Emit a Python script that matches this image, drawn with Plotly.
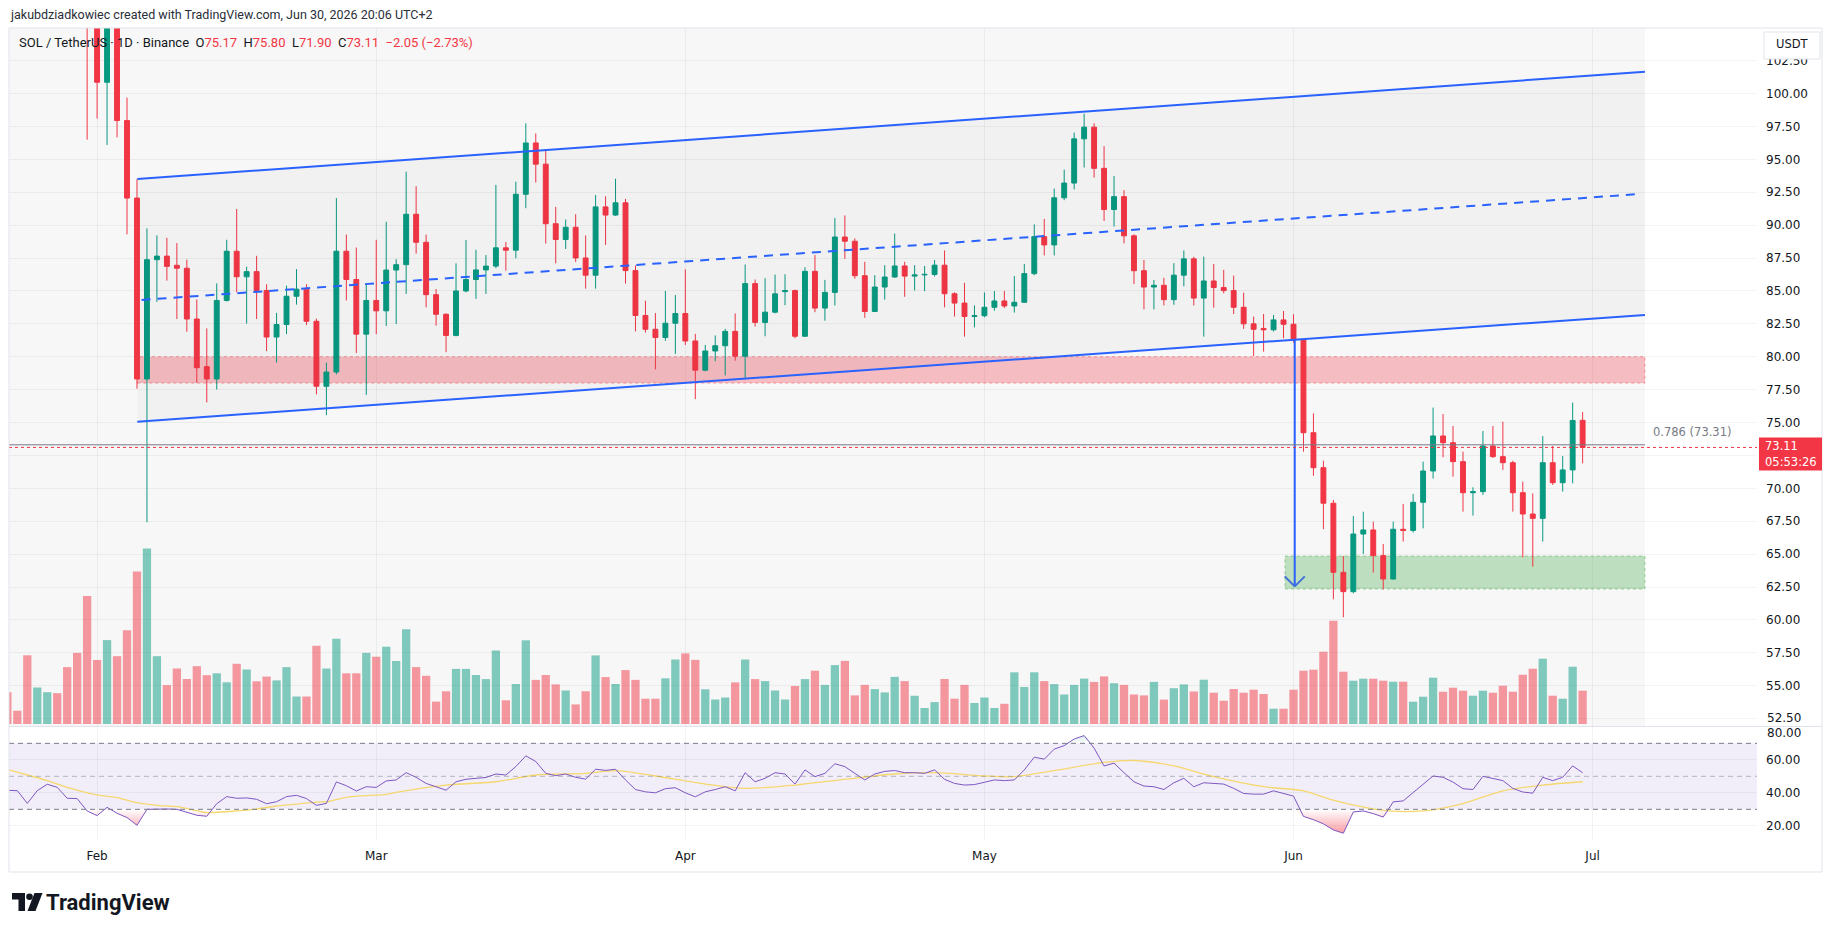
import pandas as pd
import plotly.graph_objects as go

W, H = 1835, 931

# ---------------- data (daily, Jan 23 .. Jun 30 2026) ----------------
DATES = pd.date_range("2026-01-23", "2026-06-30", freq="D")

OPEN = [
    127.5, 125.8, 124.9, 117.6, 121.8, 124.3, 121.6, 116.9, 116.6,
    108.4, 100.86, 106.2, 97.95, 92.06, 78.31, 87.38, 87.65, 86.95, 86.73, 82.87, 79.25, 78.31, 84.28,
    88.02, 86.08, 86.47, 85.04, 81.5, 82.45, 84.6, 85.14, 82.7, 77.76, 78.84, 88.02, 85.87, 81.72,
    84.28, 83.49, 86.59, 87.0, 90.83, 88.7, 84.72, 83.23, 81.62, 85.0, 85.87, 86.6, 86.89, 88.28, 88.1,
    92.35, 96.25, 94.64, 90.11, 88.91, 89.84, 87.51, 86.2, 91.39, 90.77, 91.7, 86.55, 83.14, 82.09, 81.46, 82.55,
    83.29, 81.2, 78.98, 80.44, 80.84, 81.93, 80.04, 85.56, 82.61, 83.39, 84.95, 85.03, 81.56, 86.49, 83.7,
    84.89, 89.1, 88.78, 86.16, 83.44, 85.3, 86.06, 86.9, 86.13, 86.22, 86.26, 86.96, 84.79, 84.08, 83.06,
    83.12, 83.76, 84.24, 83.86, 84.14, 86.32, 89.13, 88.5, 92.08, 93.2, 96.56, 97.45, 94.32, 91.19, 92.17,
    89.19, 86.54, 85.3, 85.43, 84.34, 86.2, 87.44, 84.46, 85.76, 85.26, 85.03, 83.76, 82.5, 82.15, 82.05, 82.8,
    82.47, 81.28, 74.23, 71.57, 68.87, 63.62, 62.15, 66.53, 66.84, 64.89, 63.11, 66.89, 66.8, 68.94, 71.32,
    73.98, 73.47, 72.03, 69.67, 69.75, 73.22, 72.41, 71.95, 69.67, 68.05, 67.72, 71.95, 70.43, 71.4, 75.17,
]
HIGH = [
    129.0, 127.0, 125.5, 123.0, 126.0, 125.0, 122.2, 118.5, 117.2,
    109.5, 107.5, 107.0, 99.7, 93.5, 89.76, 89.22, 89.04, 88.64, 87.38, 84.35, 82.16, 85.58, 88.89,
    91.23, 86.84, 87.67, 85.51, 83.34, 85.4, 86.66, 85.51, 82.9, 79.56, 92.06, 89.29, 88.3, 85.51,
    88.89, 90.26, 87.41, 94.07, 92.96, 89.28, 85.15, 83.3, 87.1, 88.88, 88.13, 87.73, 93.06, 88.72, 93.31,
    97.74, 96.97, 95.79, 91.39, 90.43, 90.83, 89.22, 92.29, 92.2, 93.53, 92.0, 86.94, 84.26, 83.32, 85.0, 84.69,
    86.64, 81.74, 80.9, 81.62, 82.12, 83.29, 87.01, 85.87, 85.97, 86.24, 86.27, 85.1, 86.8, 87.73, 85.84,
    90.55, 90.74, 89.0, 87.22, 86.2, 86.96, 89.36, 87.22, 86.96, 86.9, 87.35, 88.08, 84.9, 85.62, 83.9,
    84.89, 85.0, 85.0, 86.13, 87.05, 90.06, 90.48, 92.78, 94.22, 97.04, 98.47, 97.75, 96.01, 93.74, 92.66,
    89.3, 87.35, 85.84, 86.0, 87.11, 88.08, 87.6, 87.61, 87.05, 86.6, 86.17, 84.87, 83.06, 83.25, 83.18, 83.48,
    83.23, 81.35, 75.7, 72.1, 69.12, 64.86, 67.9, 68.23, 67.47, 65.77, 67.47, 68.82, 69.58, 72.03, 76.14,
    75.65, 74.74, 72.79, 70.08, 74.36, 74.74, 75.07, 72.1, 70.51, 69.62, 73.98, 73.22, 72.46, 76.52, 75.80,
]
LOW = [
    124.6, 123.5, 116.8, 116.5, 120.9, 120.5, 115.8, 111.8, 96.5,
    98.1, 96.1, 96.67, 89.3, 77.58, 67.42, 84.17, 85.79, 82.87, 81.9, 78.02, 76.53, 77.51, 84.2,
    84.89, 82.52, 82.87, 80.43, 79.56, 81.72, 83.96, 82.41, 77.15, 75.56, 78.66, 84.28, 80.28, 77.11,
    81.72, 82.34, 82.48, 84.78, 87.84, 83.76, 82.36, 80.35, 81.55, 84.9, 84.4, 84.78, 86.73, 86.55, 87.48,
    91.29, 93.25, 88.6, 87.1, 88.19, 87.2, 85.18, 85.18, 88.5, 90.7, 85.56, 81.93, 81.84, 79.04, 81.21, 80.22,
    80.9, 76.78, 78.9, 79.66, 78.58, 79.7, 78.33, 82.3, 81.56, 83.3, 83.92, 81.4, 81.5, 83.39, 82.74,
    83.9, 87.44, 85.93, 82.96, 83.4, 84.34, 86.0, 84.56, 85.04, 84.98, 86.1, 83.76, 83.06, 81.53, 82.23,
    83.0, 83.5, 83.7, 83.36, 84.1, 86.2, 87.7, 87.7, 91.9, 92.72, 94.38, 93.62, 90.32, 89.9, 88.62,
    85.52, 83.6, 83.6, 83.9, 83.95, 85.36, 83.9, 81.53, 83.73, 84.82, 83.25, 82.12, 80.06, 80.39, 81.92, 81.41,
    81.08, 72.79, 70.96, 66.9, 61.57, 60.2, 62.02, 65.01, 63.6, 62.32, 63.05, 65.96, 66.64, 66.96, 70.74,
    72.36, 70.89, 68.23, 67.93, 69.5, 72.3, 71.4, 68.23, 64.76, 64.05, 65.96, 70.26, 69.75, 70.38, 71.90,
]
CLOSE = [
    125.8, 124.9, 117.6, 121.8, 124.3, 121.6, 116.9, 116.6, 108.4,
    100.86, 106.2, 97.95, 92.06, 78.31, 87.38, 87.65, 86.87, 86.73, 82.87, 79.17, 78.31, 84.28, 88.02,
    86.08, 86.47, 85.04, 81.5, 82.45, 84.6, 85.14, 82.7, 77.76, 78.84, 88.02, 85.87, 81.72, 84.28,
    83.49, 86.59, 87.0, 90.83, 88.7, 84.72, 83.23, 81.62, 85.0, 85.87, 86.6, 86.89, 88.28, 88.1, 92.35,
    96.25, 94.64, 90.11, 88.91, 89.84, 87.51, 86.2, 91.39, 90.77, 91.7, 86.55, 83.14, 82.09, 81.46, 82.55, 83.29,
    81.2, 78.98, 80.44, 80.84, 81.93, 80.04, 85.56, 82.61, 83.39, 84.78, 85.03, 81.56, 86.49, 83.7, 84.89,
    89.1, 88.78, 86.16, 83.44, 85.3, 86.06, 86.9, 86.13, 86.22, 86.26, 86.96, 84.79, 84.08, 83.06, 83.12,
    83.76, 84.24, 83.86, 84.14, 86.32, 89.13, 88.5, 92.08, 93.2, 96.56, 97.45, 94.32, 91.19, 92.17, 89.19,
    86.54, 85.3, 85.43, 84.34, 86.2, 87.44, 84.46, 85.76, 85.26, 85.03, 83.76, 82.5, 82.09, 82.05, 82.8, 82.47,
    81.28, 74.23, 71.57, 68.87, 63.62, 62.15, 66.53, 66.84, 64.89, 63.11, 66.89, 66.8, 68.94, 71.32, 73.98,
    73.47, 72.03, 69.67, 69.75, 73.22, 72.41, 71.95, 69.67, 68.05, 67.72, 71.95, 70.43, 71.4, 75.16, 73.11,
]
VOLUME = [
    31.8, 13.3, 68.7, 36.5, 31.8, 30.8, 56.9, 71.1, 128,
    64, 83.9, 67.8, 93.8, 152.6, 175.4, 67.8, 38.9, 55.5, 45, 57.8, 48.8, 50.7, 41.7,
    60.2, 54.5, 42.7, 47.4, 43.6, 56.9, 27.5, 27.5, 78.2, 55.5, 85.3, 50.7, 50.7, 71.1,
    67.3, 77.3, 63, 94.8, 56.9, 48.2, 22.4, 32.7, 55.1, 55.1, 49, 44.9, 73.5, 23.7, 40,
    83.7, 44.1, 49, 39.6, 33.5, 19.6, 32.7, 68.6, 46.9, 40, 53.9, 44.1, 25.3, 25.3, 45.7, 64.5,
    70.6, 64.1, 34.7, 24.5, 26.5, 41.6, 64.5, 44.9, 42.9, 33.5, 24.5, 38, 44.9, 53.3, 39.1,
    58.9, 63.1, 28.6, 39.1, 34.9, 31.6, 47.1, 42.9, 28.2, 16, 21.9, 45, 25.3, 39.1, 21,
    26.5, 16, 20.2, 51.7, 37, 51.7, 42.9, 39.9, 29.5, 39.1, 45.4, 42.1, 47.6, 40.8, 39.1,
    29.5, 28.6, 42.1, 24.4, 35.8, 39.6, 32.5, 44.3, 31.3, 23.3, 35, 31.3, 34.3, 30, 15.3, 15.3,
    34.3, 53.3, 54.3, 72.3, 103.3, 52.3, 43.3, 45.3, 45.3, 43.3, 42.3, 42.3, 22.3, 27.3, 46.3,
    32.3, 36.3, 33.3, 28.3, 33.3, 31.3, 38.3, 32.3, 49.3, 55.3, 65.3, 28.3, 25.3, 57.3, 33.3,
]
RSI = [
    41.5, 41.3, 33.6, 41.3, 45.2, 43.3, 36.7, 36.5, 29.0,
    26.2, 31.2, 27.6, 25.0, 20.3, 30.0, 30.2, 30.2, 30.0, 28.2, 26.4, 25.8, 33.4, 37.7,
    36.7, 36.9, 36.1, 33.4, 34.6, 37.7, 38.5, 36.5, 32.4, 33.6, 46.6, 44.3, 41.1, 43.7,
    43.3, 47.2, 47.8, 52.2, 49.4, 45.7, 43.7, 41.6, 46.7, 48.2, 48.8, 49.3, 51.4, 50.8, 55.9,
    62.4, 59.0, 51.8, 50.4, 51.4, 49.4, 48.3, 54.3, 53.6, 54.3, 47.8, 42.0, 40.6, 40.0, 42.5, 43.1,
    40.0, 37.6, 40.6, 42.0, 43.7, 41.2, 52.2, 46.7, 48.8, 52.2, 51.4, 45.3, 53.9, 49.8, 51.8,
    57.6, 55.9, 51.8, 47.8, 51.4, 53.0, 53.5, 52.2, 52.2, 51.8, 53.9, 48.2, 45.7, 44.7, 45.0,
    46.5, 47.8, 47.4, 47.8, 53.9, 61.6, 60.4, 66.5, 68.6, 72.6, 74.7, 67.1, 56.3, 58.0, 52.2,
    46.7, 44.1, 43.7, 42.0, 46.1, 48.8, 43.7, 46.1, 45.7, 45.3, 42.7, 39.6, 39.2, 39.2, 41.2, 39.8,
    38.0, 25.7, 23.7, 21.2, 17.5, 15.5, 28.4, 29.0, 27.4, 25.3, 34.5, 35.1, 40.0, 45.3, 50.2,
    49.4, 46.5, 42.5, 42.0, 50.0, 48.8, 47.4, 42.7, 40.5, 39.8, 49.4, 47.4, 49.4, 56.3, 52.2,
]
RSI_MA_DATES = [
    "2026-01-23", "2026-01-25", "2026-01-27", "2026-01-29", "2026-02-01", "2026-02-03", "2026-02-05",
    "2026-02-07", "2026-02-09", "2026-02-11", "2026-02-12", "2026-02-15", "2026-02-17", "2026-02-19",
    "2026-02-21", "2026-02-23", "2026-02-24", "2026-02-26", "2026-02-28", "2026-03-02", "2026-03-03",
    "2026-03-08", "2026-03-13", "2026-03-17", "2026-03-22", "2026-03-25", "2026-03-29", "2026-04-03",
    "2026-04-07", "2026-04-12", "2026-04-17", "2026-04-22", "2026-04-26", "2026-05-01", "2026-05-04",
    "2026-05-08", "2026-05-13", "2026-05-16", "2026-05-20", "2026-05-24", "2026-05-29", "2026-06-02",
    "2026-06-05", "2026-06-10", "2026-06-14", "2026-06-18", "2026-06-22", "2026-06-26", "2026-06-30",
]
RSI_MA = [
    54.2, 50.8, 47.4, 43.3, 38.7, 37.1, 34.0, 32.4, 31.6, 29.2, 28.0, 29.0, 30.2, 32.0, 33.2, 34.4, 34.6,
    37.3, 38.3, 39.1, 40.3, 44.7, 46.7, 50.8, 51.8, 53.5, 50.2, 45.3, 42.7, 44.7, 48.2, 51.4, 52.2, 50.2,
    49.8, 53.5, 58.4, 59.6, 56.3, 49.8, 43.7, 41.2, 35.5, 29.4, 29.0, 33.5, 41.2, 44.7, 46.7,
]
PRICE_TICKS = [52.5, 55.0, 57.5, 60.0, 62.5, 65.0, 67.5, 70.0, 72.5, 75.0, 77.5, 80.0, 82.5, 85.0,
               87.5, 90.0, 92.5, 95.0, 97.5, 100.0, 102.5]
RSI_TICKS = [20, 40, 60]
MONTH_TICKS = ["2026-02-01", "2026-03-01", "2026-04-01", "2026-05-01", "2026-06-01", "2026-07-01"]
MONTH_TEXT = ["Feb", "Mar", "Apr", "May", "Jun", "Jul"]

# drawings (TradingView objects)
CH_X0, CH_X1 = "2026-02-05 00:45", "2026-07-06 06:00"
CH_UPPER = (93.51, 101.66)
CH_LOWER = (75.07, 83.18)
CH_MID_X = ("2026-02-05 11:00", "2026-07-05 18:00")
CH_MID = (84.32, 92.37)
RED_ZONE = (78.0, 80.0)
GREEN_ZONE = (62.35, 64.85)
GREEN_X0 = "2026-05-31 03:30"
ARROW_X = "2026-06-01 03:00"
ARROW_Y = (81.3, 62.55)
FIB_LEVEL = 73.31
LAST_PRICE = 73.11

assert len(OPEN) == len(HIGH) == len(LOW) == len(CLOSE) == len(VOLUME) == len(RSI) == len(DATES)
assert len(RSI_MA_DATES) == len(RSI_MA)

# ---------------- styling ----------------
UP, DOWN, BLUE = "#089981", "#f23645", "#2962ff"
GRID = "rgba(42,46,57,0.06)"
TXT = "#131722"
SCALE_FONT = dict(family="DejaVu Sans", size=12, color=TXT)
X_LEFT, X_RIGHT = "2026-01-23 03:56", "2026-07-17 11:45"


def px(x):
    return x / W


def py(y):
    return 1 - y / H


vol_colors = ["rgba(8,153,129,0.5)" if c >= o else "rgba(242,54,69,0.5)" for o, c in zip(OPEN, CLOSE)]

fig = go.Figure()

# channel background
fig.add_trace(go.Scatter(
    x=[CH_X0, CH_X0, CH_X1, CH_X1, CH_X0],
    y=[CH_LOWER[0], CH_UPPER[0], CH_UPPER[1], CH_LOWER[1], CH_LOWER[0]],
    fill="toself", fillcolor="rgba(0,0,0,0.025)", line=dict(width=0), mode="lines",
    hoverinfo="skip", xaxis="x", yaxis="y"))

fig.add_trace(go.Candlestick(
    x=DATES, open=OPEN, high=HIGH, low=LOW, close=CLOSE,
    increasing=dict(line=dict(color=UP, width=1), fillcolor=UP),
    decreasing=dict(line=dict(color=DOWN, width=1), fillcolor=DOWN),
    whiskerwidth=0, xaxis="x", yaxis="y"))

fig.add_trace(go.Bar(x=DATES, y=VOLUME, marker=dict(color=vol_colors, line=dict(width=0)),
                     xaxis="x", yaxis="y3", hoverinfo="skip"))

# RSI pane
n = len(RSI)
rsi_os = [min(v, 30) for v in RSI]
rsi_ob = [max(v, 70) for v in RSI]
fig.add_trace(go.Scatter(x=DATES, y=[30] * n, mode="lines", line=dict(width=0), xaxis="x2", yaxis="y2",
                         hoverinfo="skip"))
fig.add_trace(go.Scatter(x=DATES, y=rsi_os, mode="lines", line=dict(width=0), fill="tonexty",
                         fillgradient=dict(type="vertical",
                                           colorscale=[[0, "rgba(242,54,69,0.6)"], [1, "rgba(242,54,69,0.0)"]],
                                           start=12, stop=30),
                         xaxis="x2", yaxis="y2", hoverinfo="skip"))
fig.add_trace(go.Scatter(x=DATES, y=[70] * n, mode="lines", line=dict(width=0), xaxis="x2", yaxis="y2",
                         hoverinfo="skip"))
fig.add_trace(go.Scatter(x=DATES, y=rsi_ob, mode="lines", line=dict(width=0), fill="tonexty",
                         fillgradient=dict(type="vertical",
                                           colorscale=[[0, "rgba(8,153,129,0.0)"], [1, "rgba(8,153,129,0.5)"]],
                                           start=70, stop=85),
                         xaxis="x2", yaxis="y2", hoverinfo="skip"))
fig.add_trace(go.Scatter(x=RSI_MA_DATES, y=RSI_MA, mode="lines",
                         line=dict(color="#f5d76e", width=1.3, shape="spline", smoothing=0.8),
                         xaxis="x2", yaxis="y2", hoverinfo="skip"))
fig.add_trace(go.Scatter(x=DATES, y=RSI, mode="lines", line=dict(color="#7e57c2", width=1),
                         xaxis="x2", yaxis="y2", hoverinfo="skip"))

# ---------------- shapes ----------------
shapes = [
    dict(type="rect", xref="x", yref="y domain", x0=X_LEFT, x1=CH_X1, y0=0, y1=1,
         fillcolor="#f7f7f7", line=dict(width=0), layer="below"),
    dict(type="rect", xref="x", yref="y", x0=CH_X0, x1=CH_X1, y0=RED_ZONE[0], y1=RED_ZONE[1],
         fillcolor="rgba(242,54,69,0.30)", line=dict(color="rgba(242,54,69,0.45)", width=1, dash="dot"),
         layer="between"),
    dict(type="rect", xref="x", yref="y", x0=GREEN_X0, x1=CH_X1, y0=GREEN_ZONE[0], y1=GREEN_ZONE[1],
         fillcolor="rgba(76,175,80,0.33)", line=dict(color="rgba(76,175,80,0.5)", width=1, dash="dot"),
         layer="between"),
    dict(type="line", xref="x", yref="y", x0=CH_X0, x1=CH_X1, y0=CH_UPPER[0], y1=CH_UPPER[1],
         line=dict(color=BLUE, width=2), layer="above"),
    dict(type="line", xref="x", yref="y", x0=CH_X0, x1=CH_X1, y0=CH_LOWER[0], y1=CH_LOWER[1],
         line=dict(color=BLUE, width=2), layer="above"),
    dict(type="line", xref="x", yref="y", x0=CH_MID_X[0], x1=CH_MID_X[1], y0=CH_MID[0], y1=CH_MID[1],
         line=dict(color=BLUE, width=2, dash="9px,7px"), layer="above"),
    dict(type="line", xref="x", yref="y", x0=ARROW_X, x1=ARROW_X, y0=ARROW_Y[0], y1=ARROW_Y[1],
         line=dict(color=BLUE, width=2), layer="above"),
    dict(type="line", xref="x", yref="y", xsizemode="pixel", ysizemode="pixel", xanchor=ARROW_X,
         yanchor=ARROW_Y[1], x0=-10, y0=10, x1=0, y1=0, line=dict(color="#3f6fd8", width=2), layer="above"),
    dict(type="line", xref="x", yref="y", xsizemode="pixel", ysizemode="pixel", xanchor=ARROW_X,
         yanchor=ARROW_Y[1], x0=0, y0=0, x1=10, y1=10, line=dict(color="#3f6fd8", width=2), layer="above"),
    dict(type="line", xref="x", yref="y", x0=X_LEFT, x1=CH_X1, y0=FIB_LEVEL, y1=FIB_LEVEL,
         line=dict(color="#787b86", width=1), layer="above"),
    dict(type="line", xref="x domain", yref="y", x0=0, x1=1, y0=LAST_PRICE, y1=LAST_PRICE,
         line=dict(color=DOWN, width=1, dash="dot"), layer="above"),
    # RSI band and levels
    dict(type="rect", xref="x2 domain", yref="y2", x0=0, x1=1, y0=30, y1=70,
         fillcolor="rgba(126,87,194,0.1)", line=dict(width=0), layer="below"),
    dict(type="line", xref="x2 domain", yref="y2", x0=0, x1=1, y0=70, y1=70,
         line=dict(color="#787b86", width=1, dash="5px,4px"), layer="above"),
    dict(type="line", xref="x2 domain", yref="y2", x0=0, x1=1, y0=50, y1=50,
         line=dict(color="rgba(120,123,134,0.5)", width=1, dash="5px,4px"), layer="above"),
    dict(type="line", xref="x2 domain", yref="y2", x0=0, x1=1, y0=30, y1=30,
         line=dict(color="#787b86", width=1, dash="5px,4px"), layer="above"),
    # pane separator and frame
    dict(type="line", xref="paper", yref="paper", x0=px(9), x1=px(1822), y0=py(726.5), y1=py(726.5),
         line=dict(color="#e0e3eb", width=1), layer="above"),
    dict(type="rect", xref="paper", yref="paper", x0=px(9), x1=px(1822), y0=py(872), y1=py(28),
         line=dict(color="#e0e3eb", width=1), fillcolor="rgba(0,0,0,0)", layer="above"),
    # USDT box, last price box
    dict(type="rect", xref="paper", yref="paper", x0=px(1764), x1=px(1820), y0=py(59), y1=py(32),
         fillcolor="white", line=dict(color="#e0e3eb", width=1), layer="above"),
    dict(type="rect", xref="paper", yref="paper", x0=px(1759), x1=px(1822), y0=py(470.5), y1=py(437.5),
         fillcolor=DOWN, line=dict(width=0), layer="above"),
]


def ppath(points):
    s = "M " + " L ".join(f"{px(x):.5f},{py(y):.5f}" for x, y in points) + " Z"
    return s


shapes += [
    dict(type="path", xref="paper", yref="paper",
         path=ppath([(12, 893), (25, 893), (25, 911), (18.5, 911), (18.5, 899.5), (12, 899.5)]),
         fillcolor=TXT, line=dict(width=0), layer="above"),
    dict(type="circle", xref="paper", yref="paper", x0=px(26.2), x1=px(32.8), y0=py(900), y1=py(893.4),
         fillcolor=TXT, line=dict(width=0), layer="above"),
    dict(type="path", xref="paper", yref="paper",
         path=ppath([(34.5, 893), (42.5, 893), (35.5, 911), (27.5, 911)]),
         fillcolor=TXT, line=dict(width=0), layer="above"),
]

R = "#f23645"
NB = "\u00a0\u00a0"
header2 = (f"SOL / TetherUS · 1D · Binance{NB}O<span style='color:{R}'>75.17</span>{NB}"
           f"H<span style='color:{R}'>75.80</span>{NB}L<span style='color:{R}'>71.90</span>{NB}"
           f"C<span style='color:{R}'>73.11</span>{NB}<span style='color:{R}'>−2.05 (−2.73%)</span>")

annotations = [
    dict(x=px(8), y=py(15), xref="paper", yref="paper", xanchor="left", yanchor="middle", showarrow=False,
         text="jakubdziadkowiec created with TradingView.com, Jun 30, 2026 20:06 UTC+2",
         font=dict(family="Roboto", size=12.5, color="#2a2e39")),
    dict(x=px(17), y=py(42), xref="paper", yref="paper", xanchor="left", yanchor="middle", showarrow=False,
         text=header2, font=dict(family="Roboto", size=13, color=TXT)),
    dict(x=px(1651), y=py(432), xref="paper", yref="paper", xanchor="left", yanchor="middle", showarrow=False,
         text="0.786 (73.31)", font=dict(family="DejaVu Sans", size=11.5, color="#787b86")),
    dict(x=px(1763), y=py(446), xref="paper", yref="paper", xanchor="left", yanchor="middle", showarrow=False,
         text="73.11", font=dict(family="DejaVu Sans", size=11.5, color="white")),
    dict(x=px(1763), y=py(462), xref="paper", yref="paper", xanchor="left", yanchor="middle", showarrow=False,
         text="05:53:26", font=dict(family="DejaVu Sans", size=11.5, color="white")),
    dict(x=px(1792), y=py(44.5), xref="paper", yref="paper", xanchor="center", yanchor="middle", showarrow=False,
         text="USDT", font=dict(family="DejaVu Sans", size=11.5, color=TXT)),
    dict(x=px(1765), y=py(733), xref="paper", yref="paper", xanchor="left", yanchor="middle", showarrow=False,
         text="80.00", font=SCALE_FONT),
    dict(x=px(1765), y=py(717.5), xref="paper", yref="paper", xanchor="left", yanchor="middle", showarrow=False,
         text="52.50", font=SCALE_FONT),
    dict(x=px(44), y=py(902), xref="paper", yref="paper", xanchor="left", yanchor="middle", showarrow=False,
         text="<b>TradingView</b>", font=dict(family="Roboto", size=22, color=TXT)),
]

# labels hidden in the reference (covered by price box / drawn manually)
price_text = ["" if v in (52.5, 72.5) else f"{v:.2f}" for v in PRICE_TICKS]

fig.update_layout(
    width=W, height=H, margin=dict(l=0, r=0, t=0, b=0, pad=0),
    paper_bgcolor="white", plot_bgcolor="white", showlegend=False, bargap=0.17,
    xaxis=dict(domain=[px(9), px(1757)], type="date", range=[X_LEFT, X_RIGHT], anchor="y",
               tickvals=MONTH_TICKS, showticklabels=False, showgrid=True, gridcolor=GRID, gridwidth=1,
               zeroline=False, ticks="", rangeslider=dict(visible=False), showline=False),
    xaxis2=dict(domain=[px(9), px(1757)], type="date", range=[X_LEFT, X_RIGHT], anchor="y2", matches="x",
                tickvals=MONTH_TICKS, ticktext=MONTH_TEXT, showgrid=True, gridcolor=GRID, zeroline=False,
                ticks="", tickfont=dict(family="DejaVu Sans", size=12, color=TXT), ticklabelstandoff=7,
                showline=False),
    yaxis=dict(domain=[py(726), py(28)], range=[51.94, 104.985], side="right", anchor="x",
               tickvals=PRICE_TICKS, ticktext=price_text, showgrid=True, gridcolor=GRID, zeroline=False,
               ticks="", tickfont=SCALE_FONT, ticklabelstandoff=8, showline=False),
    yaxis2=dict(domain=[py(840), py(727)], range=[11.4, 79.9], side="right", anchor="x2",
                tickvals=RSI_TICKS, ticktext=[f"{v:.2f}" for v in RSI_TICKS], showgrid=True, gridcolor=GRID,
                zeroline=False, ticks="", tickfont=SCALE_FONT, ticklabelstandoff=8, showline=False),
    yaxis3=dict(overlaying="y", range=[-2, 696], visible=False, anchor="x"),
    shapes=shapes,
    annotations=annotations,
)

fig.write_html("out.html", config={"displayModeBar": False})
